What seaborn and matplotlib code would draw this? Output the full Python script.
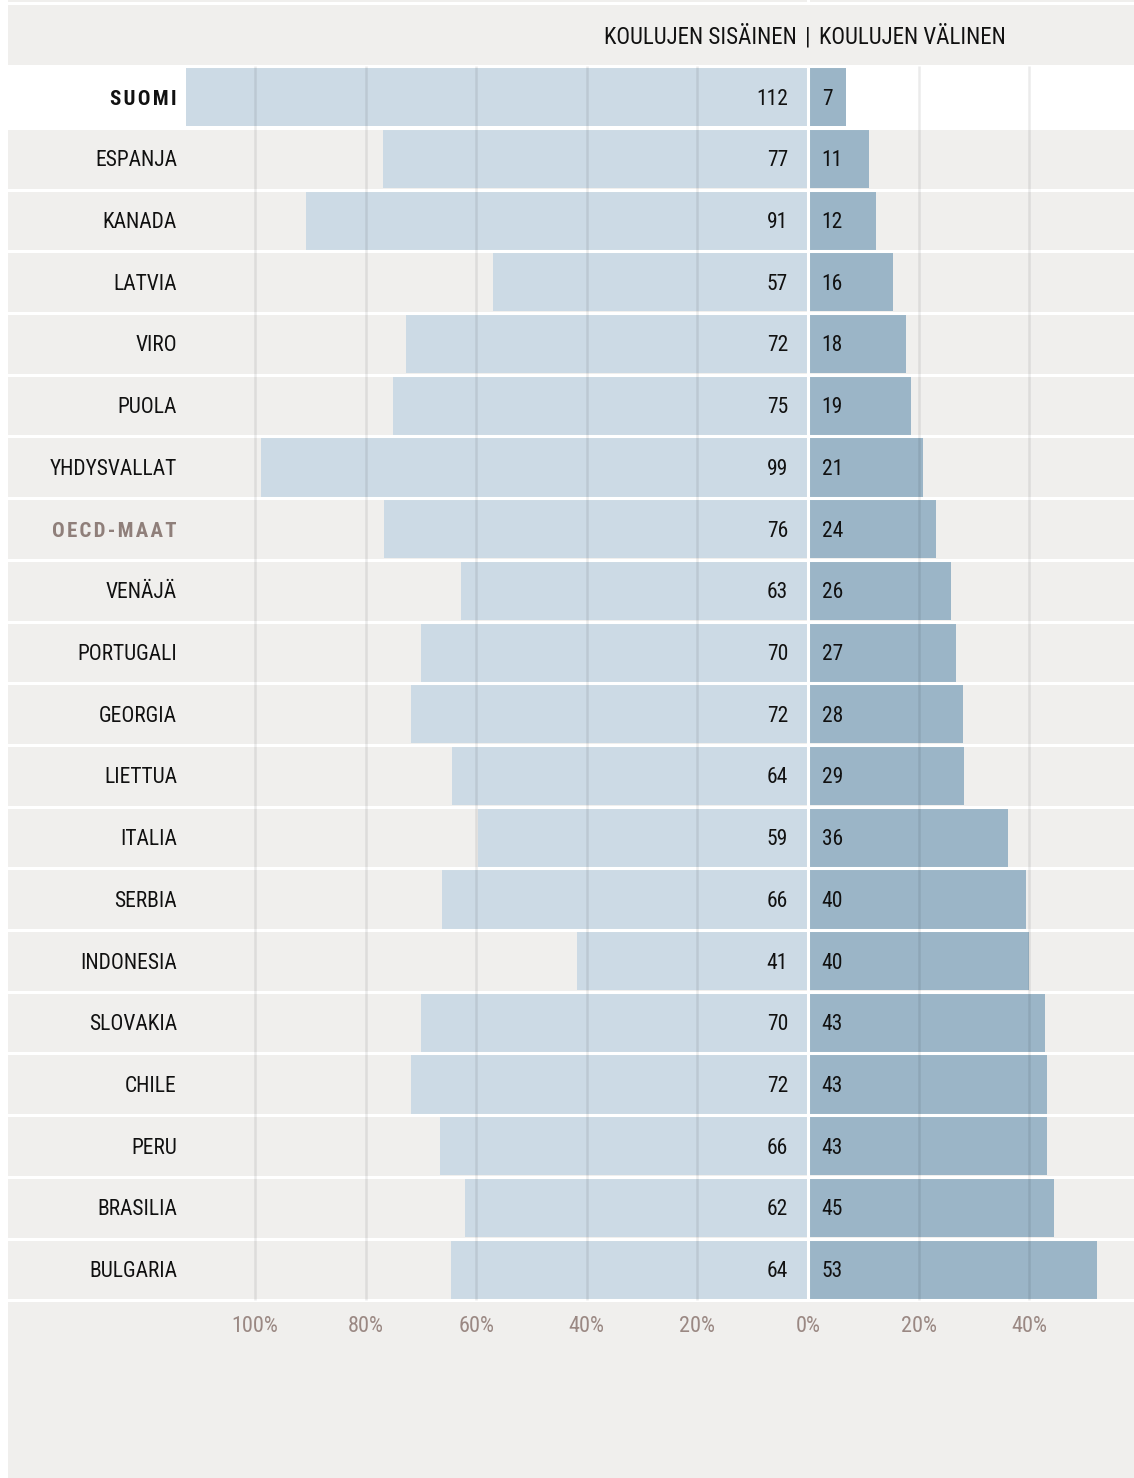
import matplotlib
matplotlib.use("Agg")
import matplotlib.pyplot as plt
import seaborn as sns
import pandas as pd

# data
countries = ["SUOMI", "ESPANJA", "KANADA", "LATVIA", "VIRO", "PUOLA", "YHDYSVALLAT",
             "OECD-MAAT", "VENÄJÄ", "PORTUGALI", "GEORGIA", "LIETTUA", "ITALIA",
             "SERBIA", "INDONESIA", "SLOVAKIA", "CHILE", "PERU", "BRASILIA", "BULGARIA"]
within = [112.4, 76.9, 90.8, 56.9, 72.6, 75.1, 98.9, 76.7, 62.8, 70.0,
          71.8, 64.4, 59.6, 66.2, 41.7, 70.0, 71.8, 66.6, 62.1, 64.6]
between = [6.9, 11.0, 12.3, 15.3, 17.7, 18.6, 20.8, 23.1, 25.8, 26.7,
           28.0, 28.3, 36.1, 39.4, 39.9, 42.8, 43.3, 43.3, 44.4, 52.2]
within_lbl = [112, 77, 91, 57, 72, 75, 99, 76, 63, 70, 72, 64, 59, 66, 41, 70, 72, 66, 62, 64]
between_lbl = [7, 11, 12, 16, 18, 19, 21, 24, 26, 27, 28, 29, 36, 40, 40, 43, 43, 43, 45, 53]
ticks = [-100, -80, -60, -40, -20, 0, 20, 40]
tick_labels = ["100%", "80%", "60%", "40%", "20%", "0%", "20%", "40%"]

df = pd.DataFrame({"maa": countries, "sisainen": [-v for v in within], "valinen": between})

BG = "#f0efed"
LIGHT = "#ccdae5"
DARK = "#9bb5c7"
FONT = ["Roboto Condensed", "Open Sans Condensed", "Liberation Sans Narrow",
        "DejaVu Sans Condensed", "DejaVu Sans"]
STRETCH = "condensed"
DY = 0.035  # nudge text down to the optical centre of the row


def spaced(s):
    return "\u200a".join(s)


fig = plt.figure(figsize=(11.34, 14.78), dpi=100, facecolor="white")
ax = fig.add_axes([0, 0, 1, 1])
ax.set_facecolor("white")

# background panel
ax.axvspan(-146.1 + 8 / 5.53, 60, color=BG, zorder=0, lw=0)
ax.axhspan(-0.5, 0.5, xmin=8 / 1134, color="white", zorder=0.5, lw=0)

sns.barplot(data=df, y="maa", x="sisainen", orient="h", color=LIGHT, saturation=1,
            width=0.95, ax=ax, zorder=2, linewidth=0)
sns.barplot(data=df, y="maa", x="valinen", orient="h", color=DARK, saturation=1,
            width=0.95, ax=ax, zorder=2, linewidth=0)

ax.set_xlim(-146.1, 58.95)
ax.set_ylim(22.38, -1.572)

# white row separators
for i in range(-1, len(countries)):
    ax.axhline(i + 0.5, color="white", lw=2.2, zorder=3)
ax.axhline(-1.53, color="white", lw=2.2, zorder=3)
ax.plot([0, 0], [-0.5, len(countries) - 0.5], color="white", lw=2.2, zorder=3,
        solid_capstyle="butt")
ax.plot([0, 0], [-1.572, -1.53], color="white", lw=2.2, zorder=3)

# grid lines
for t in ticks:
    if t != 0:
        ax.plot([t, t], [-0.5, len(countries) - 0.5], color="#000000", alpha=0.08,
                lw=1.8, zorder=4, solid_capstyle="butt")

for i, name in enumerate(countries):
    bold = name in ("SUOMI", "OECD-MAAT")
    col = "#8f7f7a" if name == "OECD-MAAT" else "#111111"
    ax.text(-114.1, i + DY, spaced(name) if bold else name, ha="right", va="center",
            fontsize=15.5 if not bold else 15, fontweight="bold" if bold else "normal",
            color=col, family=FONT, fontstretch=STRETCH, zorder=5)
    ax.text(-3.6, i + DY, str(within_lbl[i]), ha="right", va="center", fontsize=15.5,
            color="#111111", family=FONT, fontstretch=STRETCH, zorder=5)
    ax.text(2.5, i + DY, str(between_lbl[i]), ha="left", va="center", fontsize=15.5,
            color="#111111", family=FONT, fontstretch=STRETCH, zorder=5)

for t, lab in zip(ticks, tick_labels):
    ax.text(t, 19.89 + DY, lab, ha="center", va="center", fontsize=16,
            color="#9a8883", family=FONT, fontstretch=STRETCH)

ax.text(-2.0, -1.0 + DY, "KOULUJEN SISÄINEN", ha="right", va="center", fontsize=16.5,
        color="#111111", family=FONT, fontstretch=STRETCH)
ax.text(0, -1.0 + DY, "|", ha="center", va="center", fontsize=16.5,
        color="#111111", family=FONT, fontstretch=STRETCH)
ax.text(2.0, -1.0 + DY, "KOULUJEN VÄLINEN", ha="left", va="center", fontsize=16.5,
        color="#111111", family=FONT, fontstretch=STRETCH)

ax.set_axis_off()
fig.savefig("out.png", dpi=100, facecolor="white")
